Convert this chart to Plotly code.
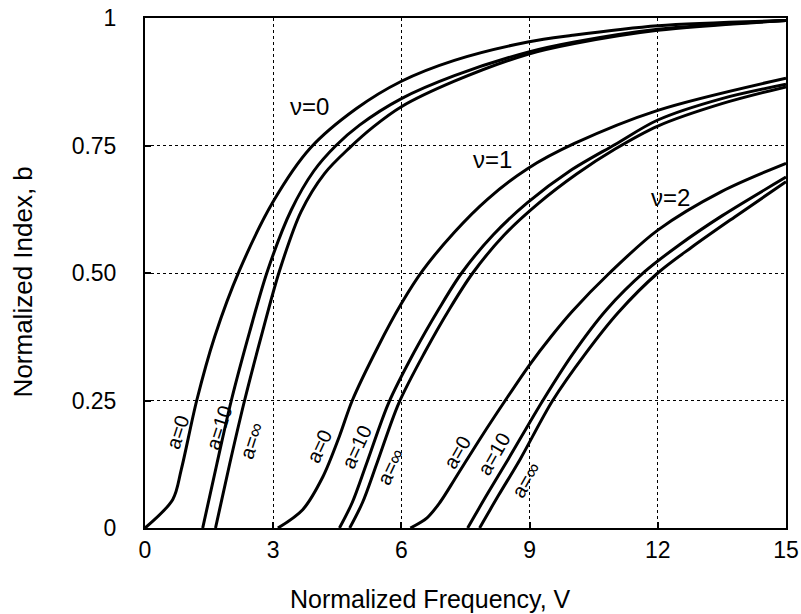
import plotly.graph_objects as go

# ---- data (V = normalized frequency, b = normalized index) ----
v0_a0_V = [0, 0.65, 0.85, 1.21, 1.63, 2.21, 3.0, 3.87, 4.94, 6.0, 7.24, 8.96, 10.0, 12.0, 15.0]
v0_a0_b = [0, 0.056, 0.115, 0.25, 0.375, 0.505, 0.64, 0.745, 0.822, 0.876, 0.917, 0.953, 0.966, 0.985, 0.995]
v0_a10_V = [1.35, 1.68, 2.02, 2.45, 2.87, 3.42, 3.95, 4.47, 5.02, 6.0, 7.24, 8.96, 10.05, 12.0, 15.0]
v0_a10_b = [0, 0.125, 0.25, 0.385, 0.505, 0.623, 0.70, 0.75, 0.79, 0.842, 0.887, 0.933, 0.953, 0.978, 0.995]
v0_ainf_V = [1.65, 1.98, 2.33, 2.75, 3.15, 3.65, 4.2, 4.78, 5.35, 6.0, 7.24, 8.96, 10.05, 12.0, 15.0]
v0_ainf_b = [0, 0.125, 0.25, 0.385, 0.505, 0.62, 0.695, 0.745, 0.787, 0.826, 0.876, 0.929, 0.95, 0.976, 0.995]

v1_a0_V = [3.11, 3.69, 4.16, 4.55, 4.85, 5.45, 6.0, 6.5, 7.24, 8.02, 8.96, 10.05, 12.0, 15.0]
v1_a0_b = [0, 0.036, 0.10, 0.18, 0.25, 0.355, 0.44, 0.505, 0.58, 0.645, 0.705, 0.754, 0.819, 0.882]
v1_a10_V = [4.55, 4.85, 5.2, 5.7, 6.3, 6.88, 7.41, 8.15, 8.95, 9.94, 11.0, 12.0, 13.5, 15.0]
v1_a10_b = [0, 0.05, 0.13, 0.245, 0.345, 0.43, 0.5, 0.575, 0.638, 0.70, 0.752, 0.80, 0.842, 0.87]
v1_ainf_V = [4.79, 5.09, 5.44, 5.94, 6.55, 7.13, 7.67, 8.4, 9.2, 10.1, 11.0, 12.0, 13.5, 15.0]
v1_ainf_b = [0, 0.05, 0.13, 0.245, 0.345, 0.43, 0.5, 0.574, 0.636, 0.694, 0.743, 0.788, 0.832, 0.865]

v2_a0_V = [6.21, 6.6, 6.9, 7.28, 7.88, 8.43, 9.0, 9.5, 10.0, 10.87, 12.0, 13.5, 15.0]
v2_a0_b = [0, 0.02, 0.05, 0.10, 0.18, 0.25, 0.32, 0.375, 0.425, 0.50, 0.584, 0.66, 0.715]
v2_a10_V = [7.55, 8.0, 8.5, 9.31, 10.0, 10.8, 11.7, 12.5, 13.5, 15.0]
v2_a10_b = [0, 0.065, 0.135, 0.25, 0.34, 0.428, 0.503, 0.555, 0.612, 0.688]
v2_ainf_V = [7.83, 8.28, 8.78, 9.54, 10.29, 11.08, 12.0, 12.8, 13.8, 15.0]
v2_ainf_b = [0, 0.065, 0.135, 0.25, 0.34, 0.423, 0.50, 0.551, 0.61, 0.679]

x_ticks = [0, 3, 6, 9, 12, 15]
x_ticklabels = ["0", "3", "6", "9", "12", "15"]
y_ticks = [0, 0.25, 0.5, 0.75, 1]
y_ticklabels = ["0", "0.25", "0.50", "0.75", "1"]

mode_labels = ["ν=0", "ν=1", "ν=2"]
mode_label_V = [3.85, 8.13, 12.30]
mode_label_b = [0.827, 0.723, 0.649]

a_labels = ["a=0", "a=10", "a=∞"] * 3
a_label_V = [0.76, 1.72, 2.49, 4.08, 4.95, 5.74, 7.29, 8.16, 8.91]
a_label_b = [0.189, 0.197, 0.171, 0.161, 0.159, 0.120, 0.148, 0.146, 0.095]
a_label_angle = [-72, -72, -72, -65, -65, -65, -60, -60, -60]

FONT = "Liberation Sans, Arial, Helvetica, sans-serif"

curves = [
    (v0_a0_V, v0_a0_b), (v0_a10_V, v0_a10_b), (v0_ainf_V, v0_ainf_b),
    (v1_a0_V, v1_a0_b), (v1_a10_V, v1_a10_b), (v1_ainf_V, v1_ainf_b),
    (v2_a0_V, v2_a0_b), (v2_a10_V, v2_a10_b), (v2_ainf_V, v2_ainf_b),
]

fig = go.Figure()
for xs, ys in curves:
    fig.add_trace(go.Scatter(
        x=xs, y=ys, mode="lines",
        line=dict(color="black", width=3, shape="spline", smoothing=0.9),
        showlegend=False, hoverinfo="skip",
    ))

annotations = []
for t, x, y in zip(mode_labels, mode_label_V, mode_label_b):
    annotations.append(dict(x=x, y=y, xref="x", yref="y", text=t, showarrow=False,
                            xanchor="center", yanchor="middle",
                            font=dict(family=FONT, size=24, color="black")))
for t, x, y, ang in zip(a_labels, a_label_V, a_label_b, a_label_angle):
    annotations.append(dict(x=x, y=y, xref="x", yref="y", text=t, showarrow=False,
                            xanchor="center", yanchor="middle",
                            textangle=ang, font=dict(family=FONT, size=20, color="black")))
annotations.append(dict(x=0.445, y=-0.139, xref="paper", yref="paper",
                        text="Normalized Frequency, V", showarrow=False,
                        xanchor="center", yanchor="middle",
                        font=dict(family=FONT, size=25, color="black")))
annotations.append(dict(x=-0.19, y=0.482, xref="paper", yref="paper",
                        text="Normalized Index, b", showarrow=False, textangle=-90,
                        xanchor="center", yanchor="middle",
                        font=dict(family=FONT, size=26, color="black")))

fig.update_layout(
    width=801, height=614,
    margin=dict(l=145, r=15, t=18, b=86, autoexpand=False),
    paper_bgcolor="white", plot_bgcolor="white",
    annotations=annotations,
    xaxis=dict(range=[0, 15], tickvals=x_ticks, ticktext=x_ticklabels, automargin=False,
               showgrid=True, gridcolor="black", gridwidth=1, griddash="dot",
               showline=True, linecolor="black", linewidth=2, mirror=True,
               ticks="inside", ticklen=6, tickwidth=1.5, tickcolor="black",
               ticklabelstandoff=0, ticklabeloverflow="allow", zeroline=False,
               tickfont=dict(family=FONT, size=23, color="black")),
    yaxis=dict(range=[0, 1], tickvals=y_ticks, ticktext=y_ticklabels, automargin=False,
               showgrid=True, gridcolor="black", gridwidth=1, griddash="dot",
               showline=True, linecolor="black", linewidth=2, mirror=True,
               ticks="inside", ticklen=6, tickwidth=1.5, tickcolor="black",
               ticklabelstandoff=22, ticklabeloverflow="allow", zeroline=False,
               tickfont=dict(family=FONT, size=23, color="black")),
)

# remove the page's default 8 px body margin so the 801x614 figure fills the window exactly
fig.write_html("out.html", config={"displayModeBar": False},
               post_script="document.body.style.margin='0';document.body.style.overflow='hidden';")
